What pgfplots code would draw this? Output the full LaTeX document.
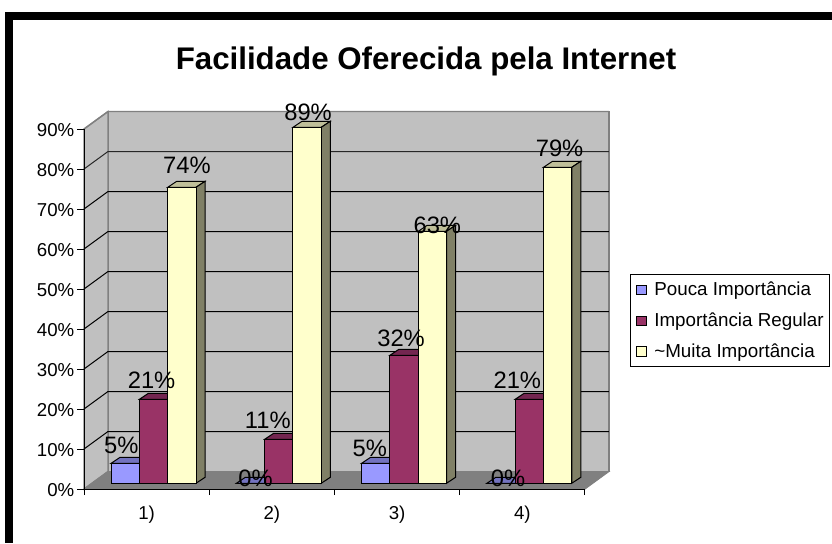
\documentclass[border=0pt]{standalone}
\usepackage{pgfplots}
\usepackage{pgfplotstable}
\usepackage{fontspec}
\setmainfont{Liberation Sans}
\pgfplotsset{compat=1.18}
\definecolor{wall}{HTML}{C0C0C0}
\definecolor{floorc}{HTML}{808080}
\definecolor{bluef}{HTML}{9999FF}
\definecolor{bluet}{HTML}{7373BF}
\definecolor{marf}{HTML}{993366}
\definecolor{mart}{HTML}{732650}
\definecolor{yelf}{HTML}{FFFFCC}
\definecolor{yelt}{HTML}{BFBF99}
\definecolor{yels}{HTML}{808066}
\newcommand\ticksize{\fontsize{14}{16}\selectfont}
% x y (label offset in pt)
\pgfplotstableread{
x y dx dy
0 5 -3 7.5
1 0 3.75 -2.25
2 5 -4.5 5.25
3 0 5.25 -2.25
}\pouca
\pgfplotstableread{
x y dx dy
0 21 -1.5 8.25
1 11 -8.25 8.25
2 32 -2.25 6.75
3 21 -9 8.25
}\regular
\pgfplotstableread{
x y dx dy
0 74 3.75 10.25
1 89 0.75 5.25
2 63 3.75 -1.5
3 79 1.5 8.25
}\muita
\begin{document}
\begin{tikzpicture}
\path[use as bounding box,fill=white] (0pt,0pt) rectangle (624pt,407.25pt);
\fill[black] (3.75pt,0pt) rectangle (9.75pt,398.25pt);
\fill[black] (3.75pt,392.25pt) rectangle (624pt,398.25pt);
\node[anchor=base,font=\fontsize{23.45}{28}\selectfont\bfseries] at (319.5pt,354.75pt) {Facilidade Oferecida pela Internet};
% walls, floor, grid, axes
\begin{axis}[
  at={(63pt,40.5pt)},anchor=south west,
  scale only axis,width=375.75pt,height=270pt,
  xmin=-0.5,xmax=3.5,ymin=0,ymax=90,
  clip=false,axis on top=true,
  axis lines=left,axis line style={-,black,line width=0.75pt},
  xtick={0,1,2,3},xticklabels={{\ticksize 1)},{\ticksize 2)},{\ticksize 3)},{\ticksize 4)}},
  major x tick style={draw=none},
  minor xtick={-0.5,0.5,1.5,2.5,3.5},
  minor x tick style={black,line width=0.75pt},
  minor tick length=4.5pt,
  ytick={0,10,...,90},
  yticklabels={{\ticksize 0\%},{\ticksize 10\%},{\ticksize 20\%},{\ticksize 30\%},{\ticksize 40\%},{\ticksize 50\%},{\ticksize 60\%},{\ticksize 70\%},{\ticksize 80\%},{\ticksize 90\%}},
  y tick style={black,line width=0.75pt},
  major tick length=5.25pt,
  tick align=outside,
  xticklabel style={yshift=-4pt},
  yticklabel style={xshift=1.5pt,yshift=-0.5pt},
]
\addplot[fill=wall,draw=floorc,line width=1pt,forget plot] coordinates {(-0.3084,4.375)(3.6916,4.375)(3.6916,94.375)(-0.3084,94.375)} -- cycle;
\addplot[fill=wall,draw=floorc,line width=1pt,forget plot] coordinates {(-0.5,0)(-0.3084,4.375)(-0.3084,94.375)(-0.5,90)} -- cycle;
\addplot[fill=floorc,draw=floorc,line width=0.75pt,forget plot] coordinates {(-0.5,0)(3.5,0)(3.6916,4.375)(-0.3084,4.375)} -- cycle;
\addplot[black,line width=0.75pt,forget plot] coordinates {(-0.5,10)(-0.3084,14.375)(3.6916,14.375)};
\addplot[black,line width=0.75pt,forget plot] coordinates {(-0.5,20)(-0.3084,24.375)(3.6916,24.375)};
\addplot[black,line width=0.75pt,forget plot] coordinates {(-0.5,30)(-0.3084,34.375)(3.6916,34.375)};
\addplot[black,line width=0.75pt,forget plot] coordinates {(-0.5,40)(-0.3084,44.375)(3.6916,44.375)};
\addplot[black,line width=0.75pt,forget plot] coordinates {(-0.5,50)(-0.3084,54.375)(3.6916,54.375)};
\addplot[black,line width=0.75pt,forget plot] coordinates {(-0.5,60)(-0.3084,64.375)(3.6916,64.375)};
\addplot[black,line width=0.75pt,forget plot] coordinates {(-0.5,70)(-0.3084,74.375)(3.6916,74.375)};
\addplot[black!70!floorc,line width=0.75pt,forget plot] coordinates {(-0.5,80)(-0.3084,84.375)(3.6916,84.375)};
\addplot[floorc,line width=1pt,forget plot] coordinates {(-0.5,90)(-0.3084,94.375)(3.6916,94.375)};
\end{axis}
% bars
\begin{axis}[
  at={(68.2pt,44.775pt)},anchor=south west,
  scale only axis,width=375.75pt,height=270pt,
  xmin=-0.5,xmax=3.5,ymin=0,ymax=90,
  clip=false,hide axis,
  /pgf/number format/assume math mode=true,
  legend style={at={(1.0755,0.5814)},anchor=north west,draw=black,line width=0.75pt,fill=white,
    font=\fontsize{14.1}{16}\selectfont,row sep=11.3pt,inner xsep=4.2pt,inner ysep=5.6pt,
    nodes={inner sep=0pt,anchor=west},cells={anchor=west}},
  legend image code/.code={\path[#1,draw=black,line width=0.75pt] (0pt,-3.7pt) rectangle (7.5pt,3.4pt);\path[draw=none,fill=none] (0pt,0pt) -- (13.5pt,0pt);},
  legend cell align=left,
  lab/.style={ybar,bar width=21.225pt,bar shift=#1,draw=none,fill=none,forget plot,
    visualization depends on={\thisrow{dx}\as\ldx},
    visualization depends on={\thisrow{dy}\as\ldy},
    nodes near coords={\pgfmathprintnumber{\pgfplotspointmeta}\%},
    every node near coord/.append style={anchor=base,inner sep=0pt,black,
      font=\fontsize{17.8}{20}\selectfont,xshift=#1,xshift=\ldx pt,yshift=\ldy pt}},
]
% Pouca Importancia
\addplot[fill=bluet,draw=black,line width=0.75pt,forget plot] coordinates {(-0.339,5)(-0.113,5)(-0.041,6.5)(-0.267,6.5)} -- cycle;
\addplot[fill=bluet,draw=black,line width=0.75pt,forget plot] coordinates {(0.661,0)(0.887,0)(0.959,1.5)(0.733,1.5)} -- cycle;
\addplot[fill=bluet,draw=black,line width=0.75pt,forget plot] coordinates {(1.661,5)(1.887,5)(1.959,6.5)(1.733,6.5)} -- cycle;
\addplot[fill=bluet,draw=black,line width=0.75pt,forget plot] coordinates {(2.661,0)(2.887,0)(2.959,1.5)(2.733,1.5)} -- cycle;
\addplot[ybar,bar width=21.225pt,bar shift=-21.225pt,fill=bluef,draw=black,line width=0.75pt] table[x=x,y=y] {\pouca};
\addlegendentry{Pouca Importância}
% Importancia Regular
\addplot[fill=mart,draw=black,line width=0.75pt,forget plot] coordinates {(-0.113,21)(0.113,21)(0.185,22.5)(-0.041,22.5)} -- cycle;
\addplot[fill=mart,draw=black,line width=0.75pt,forget plot] coordinates {(0.887,11)(1.113,11)(1.185,12.5)(0.959,12.5)} -- cycle;
\addplot[fill=mart,draw=black,line width=0.75pt,forget plot] coordinates {(1.887,32)(2.113,32)(2.185,33.5)(1.959,33.5)} -- cycle;
\addplot[fill=mart,draw=black,line width=0.75pt,forget plot] coordinates {(2.887,21)(3.113,21)(3.185,22.5)(2.959,22.5)} -- cycle;
\addplot[ybar,bar width=21.225pt,bar shift=0pt,fill=marf,draw=black,line width=0.75pt] table[x=x,y=y] {\regular};
\addlegendentry{Importância Regular}
% Muita Importancia
\addplot[fill=yelt,draw=black,line width=0.75pt,forget plot] coordinates {(0.113,74)(0.339,74)(0.411,75.5)(0.185,75.5)} -- cycle;
\addplot[fill=yelt,draw=black,line width=0.75pt,forget plot] coordinates {(1.113,89)(1.339,89)(1.411,90.5)(1.185,90.5)} -- cycle;
\addplot[fill=yelt,draw=black,line width=0.75pt,forget plot] coordinates {(2.113,63)(2.339,63)(2.411,64.5)(2.185,64.5)} -- cycle;
\addplot[fill=yelt,draw=black,line width=0.75pt,forget plot] coordinates {(3.113,79)(3.339,79)(3.411,80.5)(3.185,80.5)} -- cycle;
\addplot[fill=yels,draw=black,line width=0.75pt,forget plot] coordinates {(0.339,0)(0.339,74)(0.411,75.5)(0.411,1.5)} -- cycle;
\addplot[fill=yels,draw=black,line width=0.75pt,forget plot] coordinates {(1.339,0)(1.339,89)(1.411,90.5)(1.411,1.5)} -- cycle;
\addplot[fill=yels,draw=black,line width=0.75pt,forget plot] coordinates {(2.339,0)(2.339,63)(2.411,64.5)(2.411,1.5)} -- cycle;
\addplot[fill=yels,draw=black,line width=0.75pt,forget plot] coordinates {(3.339,0)(3.339,79)(3.411,80.5)(3.411,1.5)} -- cycle;
\addplot[ybar,bar width=21.225pt,bar shift=21.225pt,fill=yelf,draw=black,line width=0.75pt] table[x=x,y=y] {\muita};
\addlegendentry{\textasciitilde Muita Importância}
% data labels on top of everything
\addplot[lab=-21.225pt] table[x=x,y=y] {\pouca};
\addplot[lab=0pt] table[x=x,y=y] {\regular};
\addplot[lab=21.225pt] table[x=x,y=y] {\muita};
\end{axis}
\end{tikzpicture}
\end{document}
